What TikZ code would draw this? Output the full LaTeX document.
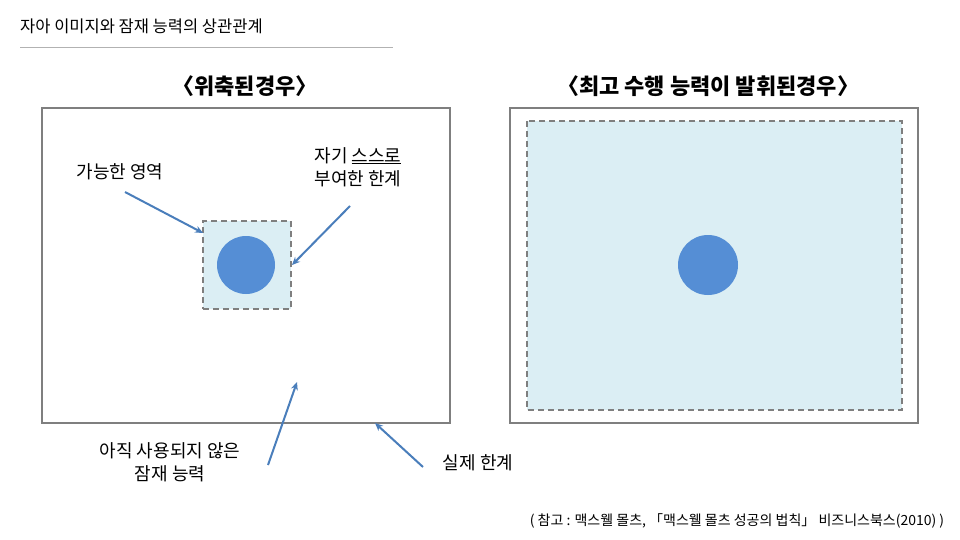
\documentclass[tikz,border=0pt]{standalone}
\usepackage{fontspec}
\setmainfont{Noto Sans CJK KR}
\usetikzlibrary{arrows.meta}
\definecolor{arr}{HTML}{4A7EBB}
\definecolor{dot}{HTML}{558ED5}
\definecolor{pale}{HTML}{DBEEF4}
\definecolor{frame}{HTML}{7F7F7F}
\tikzset{
  outer/.style={draw=frame,line width=2.5pt},
  inner/.style={draw=frame,line width=2pt,dashed,dash pattern=on 6pt off 4pt,fill=pale},
  ball/.style={fill=dot,draw=none},
  lbl/.style={font=\fontsize{18}{23}\selectfont,align=center,text=black,inner sep=1pt},
  ttl/.style={font=\bfseries\fontsize{22}{26}\selectfont},
  pt/.style={draw=arr,line width=2pt,-{Stealth[length=8pt,width=7pt]}}
}
\begin{document}
\begin{tikzpicture}[x=1pt,y=-1pt]
\useasboundingbox (0,0) rectangle (960,540);
\node[anchor=west,font=\fontsize{16.5}{19}\selectfont,inner sep=0pt] (h) at (20,26) {자아 이미지와 잠재 능력의 상관관계};
\draw[gray!60,line width=0.8pt] (20,47) -- (393,47);
\node[ttl] (t1) at (245,86) {〈위축된경우〉};
\node[ttl] (t2) at (708,86) {〈최고 수행 능력이 발휘된경우〉};
\draw[outer] (42,108) rectangle (450,423);
\node[inner,minimum width=88pt,minimum height=88pt] (sq) at (247,265) {};
\node[ball,circle,minimum size=58pt] (c1) at (246,265) {};
\draw[outer] (510,108) rectangle (918,423);
\draw[inner] (527,121) rectangle (902,410);
\node[ball,circle,minimum size=60pt] (c2) at (708,265) {};
\node[lbl] (l1) at (120,172) {가능한 영역};
\coordinate (a1) at (203,233);
\draw[pt] (125,192) -- (a1);
\node[lbl] (l2) at (358,167) {자기 \underline{스스로}\\부여한 한계};
\coordinate (a2) at (292,265);
\draw[pt] (350,206) -- (a2);
\node[lbl] (l3) at (170,462) {아직 사용되지 않은\\잠재 능력};
\coordinate (a3) at (297,382);
\draw[pt] (268,465) -- (a3);
\node[lbl] (l4) at (478,463) {실제 한계};
\coordinate (a4) at (375,423);
\draw[pt] (423,467) -- (a4);
\node[font=\fontsize{14}{16}\selectfont] (ref) at (737,521) {( 참고 : 맥스웰 몰츠, 「맥스웰 몰츠 성공의 법칙」 비즈니스북스(2010) )};
\end{tikzpicture}
\end{document}
